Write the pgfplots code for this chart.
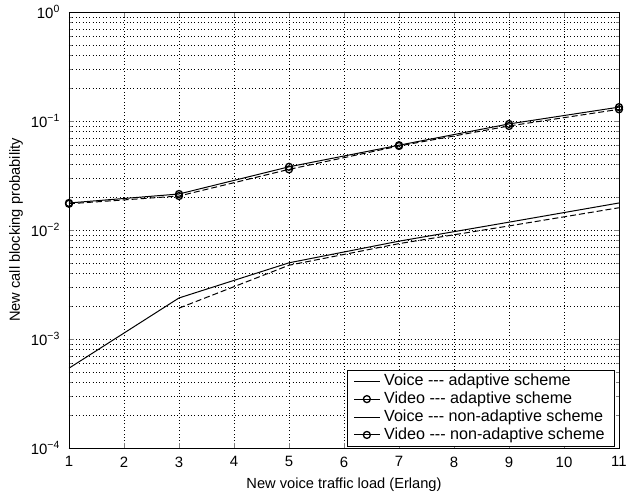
\documentclass[border=0pt]{standalone}
\usepackage{pgfplots}
\pgfplotsset{compat=1.18}
\usepackage{fontspec}
\setmainfont{Liberation Sans}
\begin{document}
\fontsize{15}{18}\selectfont
\begin{tikzpicture}
\begin{axis}[
  name=ax,
  scale only axis,
  width=550bp, height=436bp,
  ymode=log,
  xmin=1, xmax=11, ymin=1e-4, ymax=1,
  xtick={1,2,...,11},
  ytick={1e-4,1e-3,1e-2,1e-1,1},
  yticklabels={10\textsuperscript{−4},10\textsuperscript{−3},10\textsuperscript{−2},10\textsuperscript{−1},10\textsuperscript{0}},
  /pgf/number format/assume math mode=true,
  grid=both,
  major grid style={black, dash pattern=on 0.8pt off 2.6pt, line width=0.6pt},
  minor grid style={black, dash pattern=on 0.8pt off 2.6pt, line width=0.6pt},
  minor x tick num=0,
  tick align=inside,
  major tick length=5bp, minor tick length=3bp,
  xlabel={New voice traffic load (Erlang)},
  ylabel={New call blocking probability},
  tick label style={font=\fontsize{15}{18}\selectfont},
  label style={font=\fontsize{14.7}{17}\selectfont},
  xticklabel style={yshift=-3.5bp},
  yticklabel style={xshift=-4bp},
  xlabel style={at={([yshift=-37bp]axis description cs:0.5,0)}, anchor=center},
  ylabel style={at={([xshift=-53bp]axis description cs:0,0.5)}, anchor=center},
  axis line style={line width=0.8pt},
  every axis plot/.append style={
    legend image code/.code={\draw[mark repeat=2,mark phase=2,##1] plot coordinates {(0cm,0cm) (0.45cm,0cm) (0.9cm,0cm)};}},
  legend cell align=left,
  legend style={font=\fontsize{16.2}{18}\selectfont, draw=black, line width=0.7pt, inner xsep=6bp, inner ysep=2bp, row sep=0pt, nodes={inner xsep=4bp}, at={(0.9925,0.004)}, anchor=south east},
]
\addplot[black, line width=1pt] coordinates {(1,5.4e-4) (3,2.38e-3) (5,5.0e-3) (7,7.9e-3) (9,1.18e-2) (11,1.77e-2)};
\addlegendentry{Voice -{}-{}- adaptive scheme}
\addplot[black, line width=1pt, mark=o, mark size=3.5pt, mark options={line width=1.3pt}] coordinates {(1,0.0177) (3,0.0214) (5,0.038) (7,0.060) (9,0.094) (11,0.134)};
\addlegendentry{Video -{}-{}- adaptive scheme}
\addplot[black, line width=1pt, dash pattern=on 6pt off 3pt, legend image post style={solid}] coordinates {(3,1.92e-3) (5,4.75e-3) (7,7.5e-3) (9,1.09e-2) (11,1.6e-2)};
\addlegendentry{Voice -{}-{}- non-adaptive scheme}
\addplot[black, line width=1pt, dash pattern=on 6pt off 3pt, mark=o, mark size=3.5pt, mark options={solid, line width=1.3pt}, legend image post style={solid}] coordinates {(1,0.0174) (3,0.0205) (5,0.036) (7,0.059) (9,0.090) (11,0.128)};
\addlegendentry{Video -{}-{}- non-adaptive scheme}
\end{axis}
\pgfresetboundingbox
\path ([shift={(-69bp,-48bp)}]ax.south west) rectangle ([shift={(9bp,12bp)}]ax.north east);
\end{tikzpicture}
\end{document}
